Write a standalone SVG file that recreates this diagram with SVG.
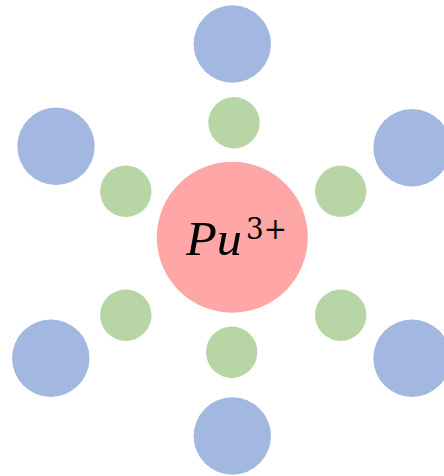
<svg xmlns="http://www.w3.org/2000/svg" width="444" height="476" viewBox="0 0 444 476">
<style>
.b{fill:#A2B8E0}
.g{fill:#B8D6A5}
.r{fill:#FFA6A6}
.t{font-family:"Liberation Serif","DejaVu Serif",serif;fill:#000}
</style>
<rect width="444" height="476" fill="#fff"/>
<g id="connectors"/>
<g id="pu"><circle class="r" cx="232.3" cy="237.3" r="75.5"/>
<text class="t" x="186" y="255" font-size="49" font-style="italic" textLength="56" lengthAdjust="spacingAndGlyphs">Pu</text>
<text x="246" y="238.5" font-size="30" style="font-family:'DejaVu Serif',serif" textLength="41" lengthAdjust="spacingAndGlyphs">3+</text></g>
<g id="o1"><circle class="b" cx="232.3" cy="44" r="38.7"/></g>
<g id="o2"><circle class="b" cx="56" cy="146.3" r="38.7"/></g>
<g id="o3"><circle class="b" cx="412" cy="147.7" r="38.7"/></g>
<g id="o4"><circle class="b" cx="50.8" cy="358.2" r="38.7"/></g>
<g id="o5"><circle class="b" cx="412" cy="358.2" r="38.7"/></g>
<g id="o6"><circle class="b" cx="232.3" cy="436" r="38.7"/></g>
<g id="g1"><circle class="g" cx="234" cy="122.7" r="25.7"/></g>
<g id="g2"><circle class="g" cx="125.8" cy="191.3" r="25.7"/></g>
<g id="g3"><circle class="g" cx="340.7" cy="191.3" r="25.7"/></g>
<g id="g4"><circle class="g" cx="125.8" cy="315.2" r="25.7"/></g>
<g id="g5"><circle class="g" cx="340.7" cy="315.2" r="25.7"/></g>
<g id="g6"><circle class="g" cx="231.7" cy="352.2" r="25.7"/></g>
</svg>
